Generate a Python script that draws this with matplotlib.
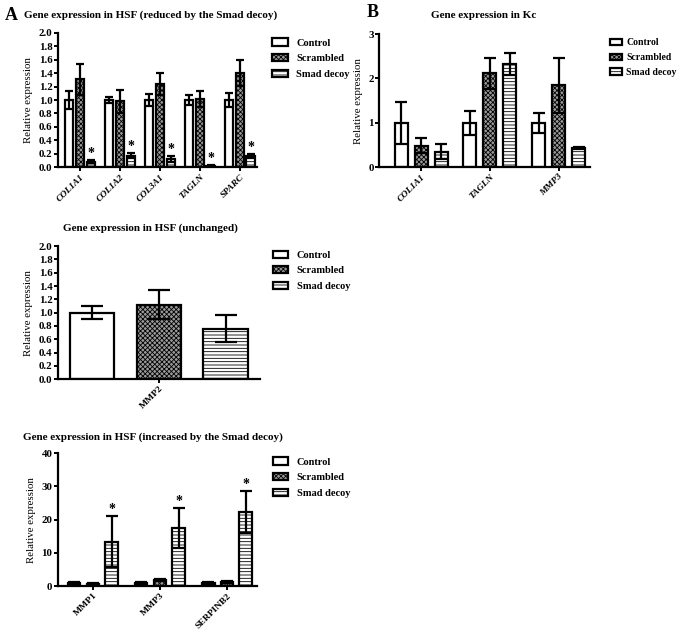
import numpy as np
import matplotlib.pyplot as plt
from matplotlib.patches import Patch

plt.rcParams['font.family'] = 'Liberation Serif'
plt.rcParams['font.weight'] = 'bold'
plt.rcParams['hatch.linewidth'] = 0.6

# ---------------- data ----------------
groups = ['Control', 'Scrambled', 'Smad decoy']

# A, top: reduced by the Smad decoy
genes_red = ['COL1A1', 'COL1A2', 'COL3A1', 'TAGLN', 'SPARC']
red_mean = [[1.0, 1.0, 1.0, 1.0, 1.0],
            [1.31, 0.98, 1.24, 1.02, 1.40],
            [0.08, 0.17, 0.12, 0.02, 0.16]]
red_err = [[0.14, 0.04, 0.09, 0.07, 0.10],
           [0.23, 0.17, 0.16, 0.12, 0.19],
           [0.02, 0.04, 0.04, 0.01, 0.03]]

# A, middle: unchanged
genes_unch = ['MMP2']
unch_mean = [[1.0], [1.12], [0.76]]
unch_err = [[0.10], [0.22], [0.20]]

# A, bottom: increased by the Smad decoy
genes_inc = ['MMP1', 'MMP3', 'SERPINB2']
inc_mean = [[1.0, 1.0, 1.0], [0.7, 1.8, 1.3], [13.4, 17.5, 22.3]]
inc_err = [[0.2, 0.2, 0.2], [0.2, 0.3, 0.2], [7.7, 6.1, 6.3]]

# B: Kc
genes_kc = ['COL1A1', 'TAGLN', 'MMP3']
kc_mean = [[1.0, 1.0, 1.0], [0.48, 2.12, 1.85], [0.35, 2.32, 0.43]]
kc_err = [[0.47, 0.27, 0.23], [0.17, 0.35, 0.62], [0.17, 0.25, 0.03]]

# ---------------- styles ----------------
faces = ['white', '#9a9a9a', 'white']
hatches = [None, 'xxxxxxx', '-----']


def panel(rect, genes, means, errs, pitch, width, xlim, ylim, yticks, fmt,
          capsize, italic, stars=False, star_off=0.0):
    ax = fig.add_axes(rect)
    x = np.arange(len(genes))
    for i in range(3):
        pos = x + (i - 1) * pitch
        ax.bar(pos, means[i], width, color=faces[i], edgecolor='black',
               linewidth=1.6, hatch=hatches[i], zorder=2)
        ax.errorbar(pos, means[i], yerr=errs[i], fmt='none', ecolor='black',
                    elinewidth=1.6, capsize=capsize, capthick=1.6, zorder=3)
        if stars and i == 2:
            for p, m, e in zip(pos, means[i], errs[i]):
                ax.text(p, m + e + star_off, '*', ha='center', va='bottom',
                        fontsize=10)
    ax.set_xlim(xlim)
    ax.set_ylim(ylim)
    ax.set_yticks(yticks)
    ax.set_yticklabels([fmt.format(v) for v in yticks], fontsize=7.8)
    ax.set_xticks(x)
    ax.set_xticklabels(genes, rotation=45, ha='right', rotation_mode='anchor',
                       fontsize=6.8, style='italic' if italic else 'normal')
    ax.set_ylabel('Relative expression', fontsize=7.8)
    for s in ['top', 'right']:
        ax.spines[s].set_visible(False)
    for s in ['left', 'bottom']:
        ax.spines[s].set_linewidth(1.6)
    ax.tick_params(width=1.4, length=3, pad=1)
    return ax


def legend(ax, x0, y0, size=7.5, hl=1.5, pad=0.8):
    handles = [Patch(facecolor=faces[i], edgecolor='black', linewidth=1.6,
                     hatch=hatches[i], label=groups[i]) for i in range(3)]
    ax.legend(handles=handles, loc='upper left', bbox_to_anchor=(x0, y0),
              bbox_transform=fig.transFigure, frameon=False, fontsize=size,
              handlelength=hl, handleheight=0.7, handletextpad=pad,
              labelspacing=0.6, borderaxespad=0, borderpad=0)


fig = plt.figure(figsize=(6.77, 6.31), dpi=100)

a1 = panel([0.0857, 0.735, 0.294, 0.213], genes_red, red_mean, red_err,
           0.27, 0.21, (-0.55, 4.43), (0, 2.0), np.arange(0, 2.01, 0.2),
           '{:.1f}', 3, True, stars=True, star_off=0.0)
legend(a1, 0.402, 0.939)

a2 = panel([0.0857, 0.399, 0.298, 0.211], genes_unch, unch_mean, unch_err,
           1.0, 0.67, (-1.51, 1.51), (0, 2.0), np.arange(0, 2.01, 0.2),
           '{:.1f}', 8, False)
a2.set_xticks([0])
legend(a2, 0.403, 0.603)

a3 = panel([0.0857, 0.071, 0.294, 0.211], genes_inc, inc_mean, inc_err,
           0.28, 0.19, (-0.52, 2.45), (0, 40), [0, 10, 20, 30, 40],
           '{:d}', 4, False, stars=True, star_off=0.0)
legend(a3, 0.403, 0.275)

b = panel([0.560, 0.735, 0.311, 0.211], genes_kc, kc_mean, kc_err,
          0.29, 0.19, (-0.61, 2.45), (0, 3), [0, 1, 2, 3],
          '{:d}', 4.5, True)
legend(b, 0.901, 0.939, size=7, hl=1.2, pad=0.45)

fig.text(0.222, 0.976, 'Gene expression in HSF (reduced by the Smad decoy)',
         ha='center', va='center', fontsize=8)
fig.text(0.222, 0.639, 'Gene expression in HSF (unchanged)',
         ha='center', va='center', fontsize=8)
fig.text(0.226, 0.307, 'Gene expression in HSF (increased by the Smad decoy)',
         ha='center', va='center', fontsize=8)
fig.text(0.714, 0.976, 'Gene expression in Kc',
         ha='center', va='center', fontsize=8)
fig.text(0.007, 0.976, 'A', ha='left', va='center', fontsize=13)
fig.text(0.542, 0.980, 'B', ha='left', va='center', fontsize=13)

fig.savefig('out.png', dpi=100)
